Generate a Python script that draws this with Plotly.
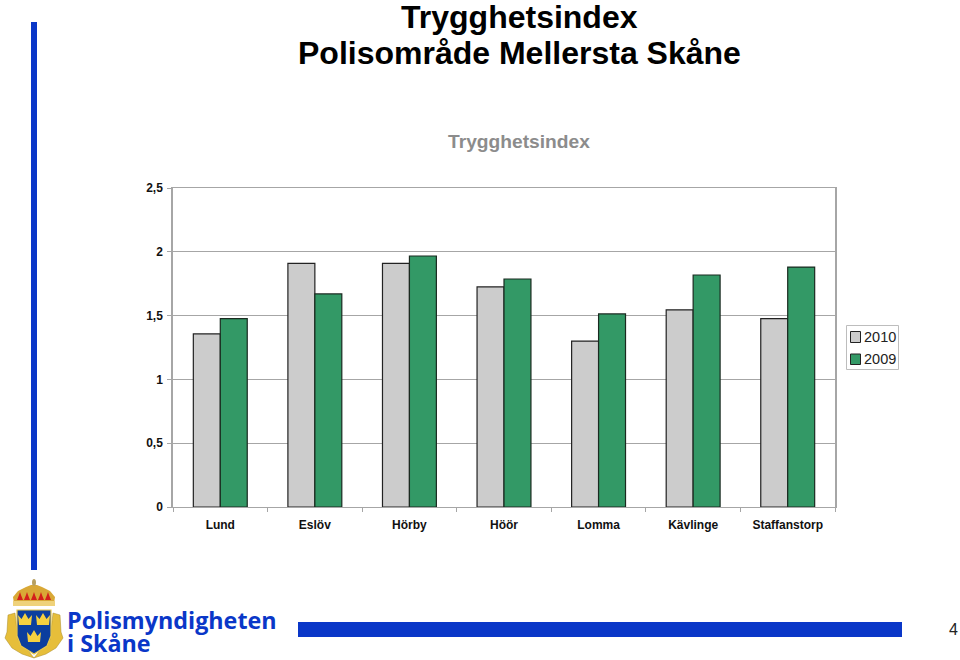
import plotly.graph_objects as go

categories = ["Lund", "Eslöv", "Hörby", "Höör", "Lomma", "Kävlinge", "Staffanstorp"]
values_2010 = [1.356, 1.91, 1.91, 1.725, 1.30, 1.545, 1.477]
values_2009 = [1.477, 1.67, 1.967, 1.787, 1.513, 1.818, 1.88]
y_ticks = [0, 0.5, 1, 1.5, 2, 2.5]
y_labels = ["0", "0,5", "1", "1,5", "2", "2,5"]
legend_names = ["2010", "2009"]

GRAY, GREEN, BLUE = "#CCCCCC", "#339966", "#0A37C8"
L, R, T, B = 173, 835, 188, 507


def px(x):
    return (x - L) / (R - L)


def py(y):
    return (B - y) / (B - T)


def pth(points):
    return "M" + "L".join(f"{px(x):.5f},{py(y):.5f}" for x, y in points) + "Z"


shapes = []


def rect(x0, y0, x1, y1, fill, line="rgba(0,0,0,0)", w=0, layer="above"):
    shapes.append(dict(type="rect", xref="paper", yref="paper", x0=px(x0), x1=px(x1),
                       y0=py(y1), y1=py(y0), fillcolor=fill, line=dict(color=line, width=w), layer=layer))


def poly(points, fill, line="rgba(0,0,0,0)", w=0):
    shapes.append(dict(type="path", xref="paper", yref="paper", path=pth(points), fillcolor=fill,
                       line=dict(color=line, width=w)))


def oval(x0, y0, x1, y1, fill):
    shapes.append(dict(type="circle", xref="paper", yref="paper", x0=px(x0), x1=px(x1),
                       y0=py(y1), y1=py(y0), fillcolor=fill, line=dict(width=0)))


# decorative page furniture
rect(31, 22, 37, 570, BLUE)
rect(298, 622, 902, 637, BLUE)

# legend
rect(846.5, 325.5, 898.5, 369.5, "white", "#BDBDBD", 1)
rect(850.5, 331.5, 860.5, 342.5, GRAY, "#222222", 1)
rect(850.5, 354, 860.5, 364.5, GREEN, "#222222", 1)

# crest: wreath
poly([(8, 615), (15, 613), (18, 640), (30, 653), (34, 658), (38, 653), (50, 640), (53, 613), (60, 615),
      (61, 632), (63, 638), (56, 648), (46, 654), (34, 658), (22, 654), (12, 648), (5, 638), (7, 632)],
     "#E6BE3A", "#A88A28", 0.5)
# crest: crown
poly([(14, 604), (13, 597), (18, 591), (26, 587), (31, 585), (37, 585), (42, 587), (50, 591), (55, 597), (54, 604)], "#D9A836")
oval(32, 579, 36, 586, "#B8A060")
for cx in (20, 27, 34, 41, 48):
    poly([(cx - 3, 600), (cx - 1, 595), (cx, 592), (cx + 1, 595), (cx + 3, 600)], "#D3201B")
rect(13, 601, 55, 606, "#EFD27A")
# crest: shield
poly([(17, 610), (51, 610), (51, 636), (47, 646), (34, 654), (21, 646), (17, 636)], "#0B3E9E", "#E9C84A", 1.2)
for cx, cy in ((25, 621), (43, 621), (34, 638)):
    poly([(cx - 7, cy - 6), (cx - 3.5, cy - 2), (cx, cy - 8), (cx + 3.5, cy - 2), (cx + 7, cy - 6), (cx + 6, cy + 4), (cx - 6, cy + 4)], "#F5D040")

annotations = []


def text(x, y, s, size, color="black", bold=False, family="Liberation Sans", anchor="center"):
    annotations.append(dict(xref="paper", yref="paper", x=px(x), y=py(y), text=f"<b>{s}</b>" if bold else s,
                            showarrow=False, xanchor=anchor, yanchor="middle",
                            font=dict(family=family, size=size, color=color)))


text(519, 16.5, "Trygghetsindex", 32, bold=True)
text(519, 53, "Polisområde Mellersta Skåne", 32, bold=True)
text(519, 141, "Trygghetsindex", 19.2, "#8C8C8C", bold=True)
text(862, 336.5, legend_names[0], 14.5, "#222222", anchor="left")
text(862, 359, legend_names[1], 14.5, "#222222", anchor="left")
text(65, 619.5, "Polismyndigheten", 23.3, BLUE, True, "Open Sans", "left")
text(65, 643, "i Skåne", 23.3, BLUE, True, "Open Sans", "left")
text(953, 629, "4", 16, "#222222")

fig = go.Figure()
fig.add_bar(name=legend_names[0], x=categories, y=values_2010, marker=dict(color=GRAY, line=dict(color="#222222", width=1.2)))
fig.add_bar(name=legend_names[1], x=categories, y=values_2009, marker=dict(color=GREEN, line=dict(color="#1A2A20", width=1.2)))
fig.update_layout(
    width=960, height=660, autosize=False, paper_bgcolor="white", plot_bgcolor="white",
    margin=dict(l=L, r=960 - R, t=T, b=660 - B), barmode="group", bargap=0.43, bargroupgap=0,
    showlegend=False, shapes=shapes, annotations=annotations,
    font=dict(family="Liberation Sans", color="#111111"),
)
fig.update_xaxes(showgrid=False, showline=True, linecolor="#A6A6A6", linewidth=1, mirror=True,
                 ticks="outside", tickson="boundaries", tickcolor="#A6A6A6", ticklen=4, ticklabelstandoff=7,
                 tickfont=dict(size=12, family="Liberation Sans"), tickprefix="<b>", ticksuffix="</b>")
fig.update_yaxes(range=[0, 2.5], tickvals=y_ticks, ticktext=[f"<b>{t}</b>" for t in y_labels],
                 showgrid=True, gridcolor="#A6A6A6", gridwidth=1, showline=True, linecolor="#A6A6A6",
                 linewidth=1.5, ticks="outside", ticklen=4, tickcolor="#A6A6A6", mirror=True, ticklabelstandoff=2,
                 tickfont=dict(size=12, family="Liberation Sans"), zeroline=False)
fig.write_html("out.html", config=dict(displayModeBar=False), post_script="document.body.style.margin='0';")
